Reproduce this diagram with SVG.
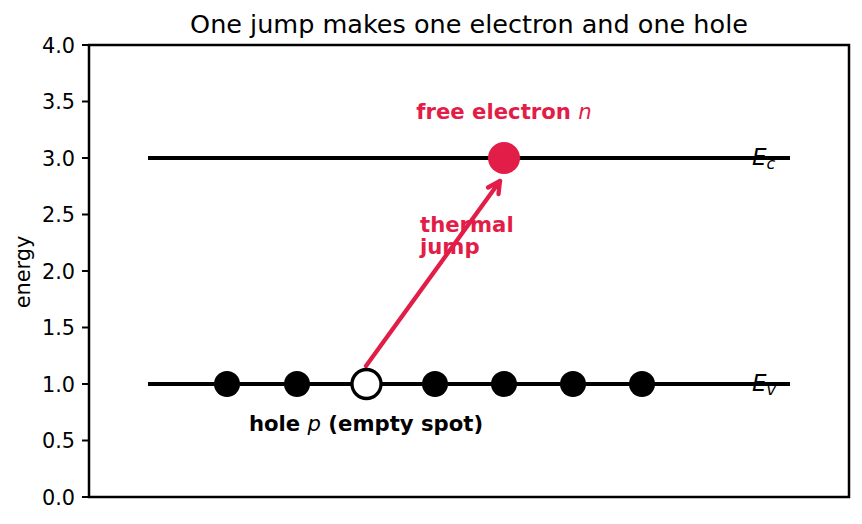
<svg xmlns="http://www.w3.org/2000/svg" width="862" height="524" viewBox="0 0 862 524">
<style>
  text { font-family: "DejaVu Sans", "Liberation Sans", sans-serif; }
  .tick { font-size: 20.8px; fill: #000; text-anchor: end; }
  .ticklines line { stroke: #000; stroke-width: 2; }
  .level { stroke: #000; stroke-width: 4.2; fill: none; }
  .dot { fill: #000; }
  .lbl { font-size: 21.2px; font-weight: bold; }
  .red { fill: #e11d48; }
  .math { font-style: italic; font-weight: normal; }
  .elabel { font-size: 23px; font-style: italic; fill: #000; }
</style>
<rect x="0" y="0" width="862" height="524" fill="#fff"/>
<text x="469" y="33" font-size="25.5px" text-anchor="middle">One jump makes one electron and one hole</text>

<g id="axes">
  <rect x="89" y="45" width="760" height="452" fill="none" stroke="#000" stroke-width="2.5"/>
  <g class="ticklines">
    <line x1="82" y1="497" x2="89" y2="497"/>
    <line x1="82" y1="440.5" x2="89" y2="440.5"/>
    <line x1="82" y1="384" x2="89" y2="384"/>
    <line x1="82" y1="327.5" x2="89" y2="327.5"/>
    <line x1="82" y1="271" x2="89" y2="271"/>
    <line x1="82" y1="214.5" x2="89" y2="214.5"/>
    <line x1="82" y1="158" x2="89" y2="158"/>
    <line x1="82" y1="101.5" x2="89" y2="101.5"/>
    <line x1="82" y1="45" x2="89" y2="45"/>
  </g>
  <text class="tick" x="75" y="504.5">0.0</text>
  <text class="tick" x="75" y="448">0.5</text>
  <text class="tick" x="75" y="391.5">1.0</text>
  <text class="tick" x="75" y="335">1.5</text>
  <text class="tick" x="75" y="278.5">2.0</text>
  <text class="tick" x="75" y="222">2.5</text>
  <text class="tick" x="75" y="165.5">3.0</text>
  <text class="tick" x="75" y="109">3.5</text>
  <text class="tick" x="75" y="52.5">4.0</text>
  <text transform="translate(30,272) rotate(-90)" font-size="20.8px" text-anchor="middle">energy</text>
</g>

<g id="conduction-band">
  <line class="level" x1="148" y1="158" x2="790" y2="158"/>
  <text class="elabel" x="752" y="165">E<tspan font-size="16px" dy="4">c</tspan></text>
</g>
<g id="valence-band">
  <line class="level" x1="148" y1="384" x2="790" y2="384"/>
  <text class="elabel" x="752" y="391">E<tspan font-size="16px" dy="4">v</tspan></text>
</g>

<text class="lbl red" x="420" y="232">thermal</text>
<text class="lbl red" x="420" y="254">jump</text>

<g id="connectors">
  <g id="thermal-jump-arrow" stroke="#e11d48" stroke-width="4.3" fill="none" stroke-linecap="round" stroke-linejoin="round">
    <line x1="366" y1="366" x2="500" y2="181"/>
    <polyline points="488,187.5 500,181 498.5,194"/>
  </g>
</g>

<g id="valence-electrons">
  <circle class="dot" cx="227" cy="384" r="13"/>
  <circle class="dot" cx="297" cy="384" r="13"/>
  <circle class="dot" cx="435" cy="384" r="13"/>
  <circle class="dot" cx="504" cy="384" r="13"/>
  <circle class="dot" cx="573" cy="384" r="13"/>
  <circle class="dot" cx="642" cy="384" r="13"/>
</g>
<g id="hole">
  <circle cx="366.5" cy="384" r="14.5" fill="#fff" stroke="#000" stroke-width="3.3"/>
  <text class="lbl" x="366" y="431" text-anchor="middle" fill="#000">hole <tspan class="math">p</tspan> (empty spot)</text>
</g>
<g id="free-electron">
  <circle cx="504" cy="158" r="16" fill="#e11d48"/>
  <text class="lbl red" x="504" y="119" text-anchor="middle">free electron <tspan class="math">n</tspan></text>
</g>
</svg>
